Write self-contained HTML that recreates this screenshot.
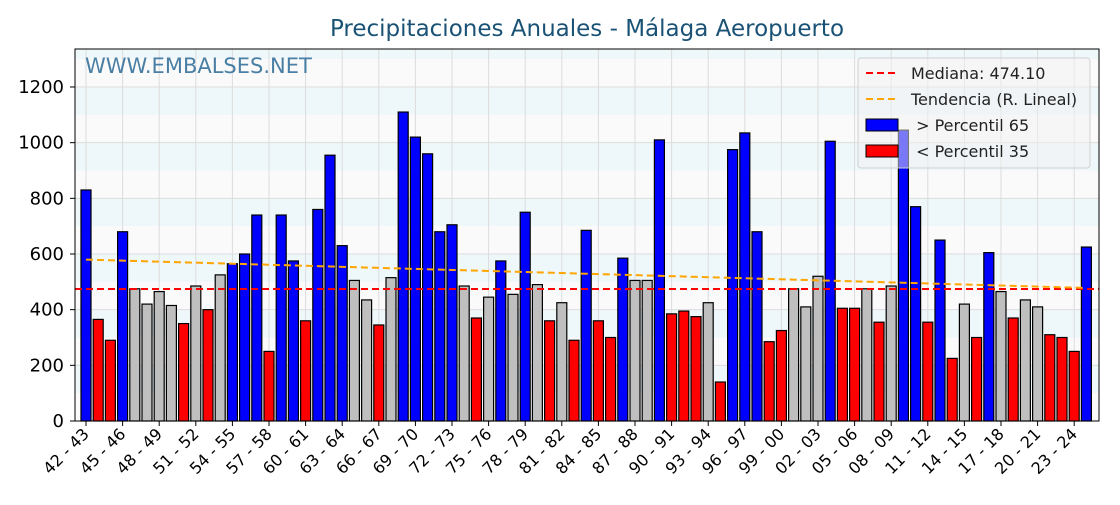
<!DOCTYPE html>
<html><head><meta charset="utf-8"><style>
body{margin:0;background:#fff;font-family:"Liberation Sans","DejaVu Sans",sans-serif}
svg text{font-family:"DejaVu Sans","Liberation Sans",sans-serif}
</style></head><body>
<svg id="chart" width="1120" height="500" xmlns="http://www.w3.org/2000/svg"></svg>
<script>
const startYears = Array.from({length:83},(_,i)=>1942+i);
const values = [830,365,290,680,475,420,465,415,350,485,400,525,565,600,740,250,740,575,360,760,955,630,505,435,345,515,1110,1020,960,680,705,485,370,445,575,455,750,490,360,425,290,685,360,300,585,505,505,1010,385,395,375,425,140,975,1035,680,285,325,475,410,520,1005,405,405,475,355,485,1045,770,355,650,225,420,300,605,465,370,435,410,310,300,250,625];
const yTicks = [0,200,400,600,800,1000,1200];
const median = 474.10;
const trendStart = 580, trendEnd = 478;
const p65 = 560, p35 = 410;

const NS="http://www.w3.org/2000/svg";
const svg=document.getElementById('chart');
const L=75,R=1099,T=49,B=421;
const y=v=>B-v*(B-87)/1200;
const x=i=>86+i*12.2;
function mk(tag,attrs,parent){const e=document.createElementNS(NS,tag);for(const k in attrs)e.setAttribute(k,attrs[k]);(parent||svg).appendChild(e);return e;}
for(let v=100;v<1400;v+=200){
  const b=mk('rect',{x:L,y:Math.max(T,y(v+100)),width:R-L,height:y(v)-Math.max(T,y(v+100)),fill:'#eef7fa'});
  
  
}
for(let v=0;v<1400;v+=200){
  const b=mk('rect',{x:L,y:Math.max(T,y(v+100)),width:R-L,height:y(v)-Math.max(T,y(v+100)),fill:'#fafafa'});
  
  
}
yTicks.forEach(v=>{
  const g=mk('line',{x1:L,x2:R,y1:y(v),y2:y(v),stroke:'#dcdcdc','stroke-width':1});
  
  
  const t=mk('text',{x:64,y:y(v)+6,'text-anchor':'end','font-size':18,fill:'#000'});
  t.textContent=v;
  
  
  mk('line',{x1:L-5,x2:L,y1:y(v),y2:y(v),stroke:'#000'});
});
startYears.forEach((yr,i)=>{
  if(i%3!==0)return;
  const g=mk('line',{x1:x(i),x2:x(i),y1:T,y2:B,stroke:'#dcdcdc','stroke-width':1});
  
  
  mk('line',{x1:x(i),x2:x(i),y1:B,y2:B+5,stroke:'#000'});
  const a=String(yr%100).padStart(2,'0'),b=String((yr+1)%100).padStart(2,'0');
  const t=mk('text',{x:x(i)+4,y:B+14,'text-anchor':'end','font-size':16,transform:`rotate(-45 ${x(i)+4} ${B+14})`});
  t.textContent=a+' - '+b;
  
  
});
values.forEach((v,i)=>{
  const c=v>p65?'#0000ff':(v<p35?'#ff0000':'#bfbfbf');
  const r=mk('rect',{x:x(i)-5,y:y(v),width:10,height:B-y(v),fill:c,stroke:'#000','stroke-width':1.2});
  
  
});
const m=mk('line',{x1:L,x2:R,y1:y(median),y2:y(median),stroke:'#ff0000','stroke-width':2,'stroke-dasharray':'7,4'});


const tr=mk('line',{x1:x(0),x2:x(values.length-1),y1:y(trendStart),y2:y(trendEnd),stroke:'#ffa500','stroke-width':2,'stroke-dasharray':'7,4'});


mk('rect',{x:L,y:T,width:R-L,height:B-T,fill:'none',stroke:'#000','stroke-width':1});
const w=mk('text',{x:85,y:73,'font-size':21,fill:'#4a7fa5'});
w.textContent='WWW.EMBALSES.NET';


const ti=mk('text',{x:587,y:36,'text-anchor':'middle','font-size':23,fill:'#1a5276'});
ti.textContent='Precipitaciones Anuales - Málaga Aeropuerto';


const lg=mk('g',{});


mk('rect',{x:858,y:58,width:232,height:110,rx:3,fill:'rgba(242,242,242,0.5)',stroke:'#d0d0d0'},lg);
const items=[['line','#ff0000','Mediana: 474.10'],['line','#ffa500','Tendencia (R. Lineal)'],['box','#0000ff','\u00a0> Percentil 65'],['box','#ff0000','\u00a0< Percentil 35']];
items.forEach((it,k)=>{
  const yy=73+k*26;
  const g=mk('g',{},lg);
  
  
  if(it[0]==='line')mk('line',{x1:866,x2:898,y1:yy,y2:yy,stroke:it[1],'stroke-width':2,'stroke-dasharray':'7,4'},g);
  else mk('rect',{x:866,y:yy-6,width:32,height:12,fill:it[1],stroke:'#000'},g);
  const t=mk('text',{x:911,y:yy+6,'font-size':16,fill:'#222'},g);
  t.textContent=it[2];
});
</script>
</body></html>
